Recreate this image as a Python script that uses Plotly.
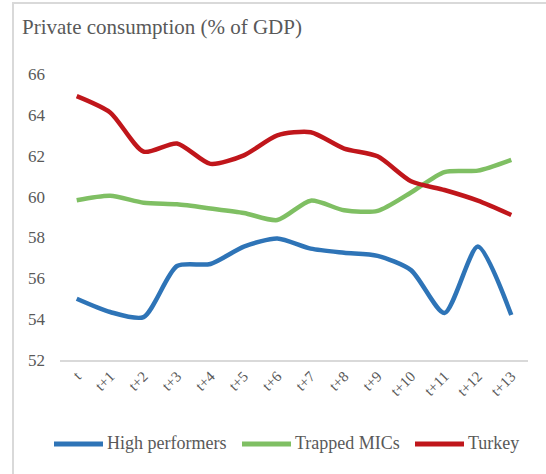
import plotly.graph_objects as go

# Period labels relative to the base year
periods = ["t", "t+1", "t+2", "t+3", "t+4", "t+5", "t+6",
           "t+7", "t+8", "t+9", "t+10", "t+11", "t+12", "t+13"]

# Private consumption, % of GDP
high_performers = [55.0, 54.35, 54.1, 56.6, 56.7, 57.55, 57.95,
                   57.45, 57.25, 57.1, 56.4, 54.3, 57.55, 54.2]
trapped_mics = [59.82, 60.04, 59.7, 59.62, 59.42, 59.2, 58.85,
                59.8, 59.33, 59.3, 60.2, 61.2, 61.27, 61.8]
turkey = [64.92, 64.12, 62.2, 62.6, 61.6, 62.02, 63.0,
          63.15, 62.35, 61.97, 60.75, 60.32, 59.8, 59.1]

y_ticks = [52, 54, 56, 58, 60, 62, 64, 66]

series = [
    ("High performers", high_performers, "#2E74B7"),
    ("Trapped MICs", trapped_mics, "#7FBF63"),
    ("Turkey", turkey, "#C0161B"),
]

FONT = "Liberation Serif, Times New Roman, serif"
GRAY = "#595959"

fig = go.Figure()
for name, values, color in series:
    fig.add_trace(go.Scatter(
        x=periods, y=values, name=name, mode="lines",
        line=dict(color=color, width=4.5, shape="spline", smoothing=0.7),
        showlegend=False,
    ))

W, H = 546, 474
ML, MR, MT, MB = 60, 18, 74, 114
pw, ph = W - ML - MR, H - MT - MB


def px_x(p):
    return (p - ML) / pw


def px_y(p):
    return (H - MB - p) / ph


fig.update_layout(
    width=W, height=H,
    margin=dict(l=ML, r=MR, t=MT, b=MB),
    paper_bgcolor="white", plot_bgcolor="white",
    font=dict(family=FONT, color=GRAY, size=16),
    title=dict(
        text="Private consumption (% of GDP)",
        font=dict(family=FONT, size=21, color=GRAY),
        xref="container", yref="container",
        x=22 / W, xanchor="left", y=1 - 27 / H, yanchor="middle",
    ),
    showlegend=False,
    xaxis=dict(
        type="category", range=[-0.5, len(periods) - 0.5],
        showgrid=False, zeroline=False,
        showline=True, linecolor="#D9D9D9", linewidth=1.5,
        ticks="", tickangle=-45,
        tickfont=dict(family=FONT, size=15, color=GRAY),
    ),
    yaxis=dict(
        range=[52, 66], tickvals=y_ticks, showgrid=False, zeroline=False,
        showline=False, ticks="", ticklabelstandoff=14,
        tickfont=dict(family=FONT, size=17, color=GRAY),
    ),
)

# Legend row below the axis: a long line swatch followed by the series name
legend_y = 444
legend_starts = [54, 242, 415]
swatch_len = 49
for (name, _, color), x0 in zip(series, legend_starts):
    fig.add_shape(
        type="line", xref="paper", yref="paper",
        x0=px_x(x0), x1=px_x(x0 + swatch_len),
        y0=px_y(legend_y), y1=px_y(legend_y),
        line=dict(color=color, width=5),
    )
    fig.add_annotation(
        text=name, xref="paper", yref="paper",
        x=px_x(x0 + swatch_len + 2), y=px_y(legend_y - 1),
        xanchor="left", yanchor="middle", showarrow=False,
        font=dict(family=FONT, size=18, color=GRAY),
    )

# Light frame around the whole chart
fig.add_shape(
    type="rect", xref="paper", yref="paper",
    x0=px_x(13), x1=px_x(W + 4),
    y0=px_y(H + 4), y1=px_y(3),
    line=dict(color="#D9D9D9", width=2), layer="below",
)

fig.write_html("out.html")
